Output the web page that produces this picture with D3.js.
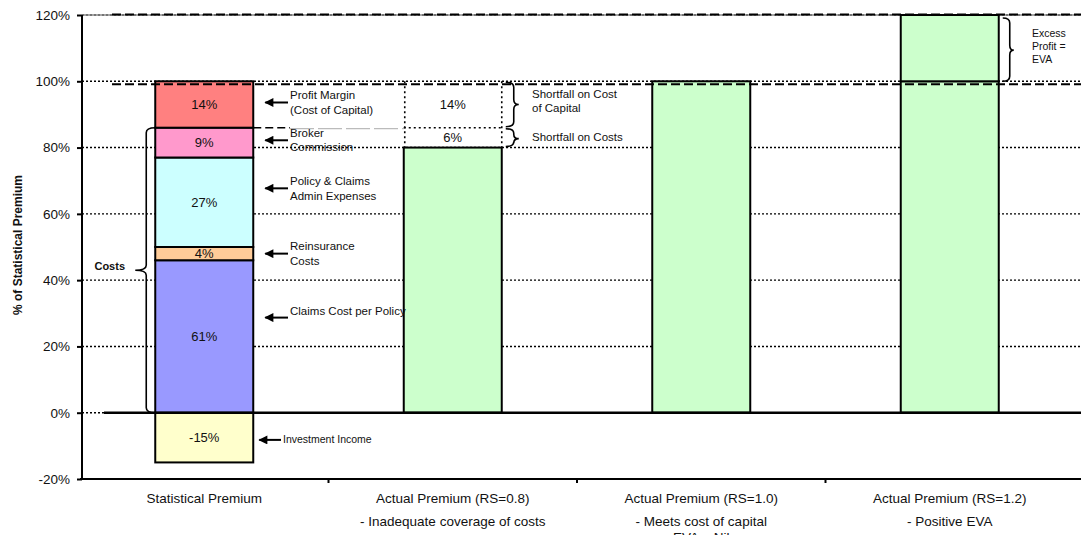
<!DOCTYPE html>
<html>
<head>
<meta charset="utf-8">
<script src="https://cdn.jsdelivr.net/npm/d3@7"></script>
<style>
body { margin: 0; background: #fff; }
svg { font-family: "Liberation Sans", Arial, sans-serif; }
</style>
</head>
<body>
<div id="chart-area"></div>
<script>
// data
const categories = ["Statistical Premium", "Actual Premium (RS=0.8)", "Actual Premium (RS=1.0)", "Actual Premium (RS=1.2)"]
const subLabels = [[], ["- Inadequate coverage of costs"], ["- Meets cost of capital", "EVA = Nil"], ["- Positive EVA"]]
const segNames = ["Investment Income", "Claims Cost per Policy", "Reinsurance Costs", "Policy & Claims Admin Expenses", "Broker Commission", "Profit Margin (Cost of Capital)"]
const segValues = [-15, 61, 4, 27, 9, 14]
const segColors = ["#ffffcc", "#9999ff", "#ffcc99", "#ccffff", "#ff99cc", "#ff8080"]
const segNotes = [["Investment Income"], ["Claims Cost per Policy"], ["Reinsurance", "Costs"], ["Policy & Claims", "Admin Expenses"], ["Broker", "Commission"], ["Profit Margin", "(Cost of Capital)"]]
const noteAt = [-8.2, 28.7, 48, 67.7, 82.2, 93.6]
const actualValues = [80, 100, 120]
const shortfallValues = [6, 14]
const shortfallNotes = [["Shortfall on Costs"], ["Shortfall on Cost", "of Capital"]]
const yTicks = [-20, 0, 20, 40, 60, 80, 100, 120]

const W = 1081, H = 535
const LEFT = 82, TOP = 15, BOTTOM = 479
const INK = "#111"

const svg = d3.select("#chart-area").append("svg")
	.attr("width", W)
	.attr("height", H)

const y = d3.scaleLinear()
	.domain([-20, 120])
	.range([BOTTOM, TOP])

const x = d3.scaleBand()
	.domain(categories)
	.range([80, 1074])

const BAR = 98
const barX = c => x(c) + (x.bandwidth() - BAR) / 2

// grid
svg.append("g").selectAll("line")
	.data(yTicks.filter(d => d > -20))
	.enter().append("line")
		.attr("x1", LEFT).attr("x2", W)
		.attr("y1", d => y(d)).attr("y2", d => y(d))
		.attr("stroke", "#000")
		.attr("stroke-width", 1.4)
		.attr("stroke-dasharray", "2,2")

// top border (grey)
svg.append("line")
	.attr("x1", LEFT).attr("x2", W)
	.attr("y1", y(120)).attr("y2", y(120))
	.attr("stroke", "#888").attr("stroke-width", 1.5)

// y axis
const yAxis = svg.append("g")
	.attr("transform", `translate(${LEFT},0)`)
	.call(d3.axisLeft(y).tickValues(yTicks).tickFormat(d => d + "%").tickSize(5).tickPadding(7))
yAxis.select(".domain").remove()
yAxis.selectAll("line").attr("stroke-width", 2)
yAxis.selectAll("text").attr("font-size", "13.5px").attr("fill", INK).attr("font-family", "Liberation Sans, Arial, sans-serif")
svg.append("line")
	.attr("x1", LEFT).attr("x2", LEFT)
	.attr("y1", TOP).attr("y2", BOTTOM + 1)
	.attr("stroke", "#000").attr("stroke-width", 2)

// x axis
svg.append("line")
	.attr("x1", LEFT - 2).attr("x2", W)
	.attr("y1", BOTTOM).attr("y2", BOTTOM)
	.attr("stroke", "#000").attr("stroke-width", 2)
svg.append("g").selectAll("line")
	.data(categories.slice(1))
	.enter().append("line")
		.attr("x1", d => x(d)).attr("x2", d => x(d))
		.attr("y1", BOTTOM).attr("y2", BOTTOM + 4)
		.attr("stroke", "#000").attr("stroke-width", 2)

const xLabels = svg.append("g").selectAll("text")
	.data(categories)
	.enter().append("text")
		.attr("text-anchor", "middle")
		.attr("font-size", "13.5px")
		.attr("fill", INK)
xLabels.each(function(d, i) {
	const t = d3.select(this)
	const cx = x(d) + x.bandwidth() / 2
	const lines = [d].concat(subLabels[i])
	lines.forEach((l, j) => {
		t.append("tspan")
			.attr("x", cx)
			.attr("y", j === 0 ? 498 : 521.5 + (j - 1) * 16)
			.attr("dy", "0.35em")
			.text(l)
	})
})

// y title
svg.append("text")
	.attr("transform", "rotate(-90)")
	.attr("x", -245)
	.attr("y", 18)
	.attr("text-anchor", "middle")
	.attr("dy", "0.35em")
	.attr("font-size", "12px")
	.attr("font-weight", "bold")
	.attr("fill", INK)
	.text("% of Statistical Premium")

// stacked bar (statistical premium)
let cum = segValues[0]
const segs = segValues.map((v, i) => {
	if (i === 0) return { name: segNames[i], value: v, y0: 0, y1: v, color: segColors[i] }
	const s = { name: segNames[i], value: v, y0: Math.max(0, cum), y1: cum + v, color: segColors[i] }
	cum += v
	return s
})

const x0 = barX(categories[0])
svg.append("g").selectAll("rect")
	.data(segs)
	.enter().append("rect")
		.attr("x", x0)
		.attr("width", BAR)
		.attr("y", d => y(Math.max(d.y0, d.y1)))
		.attr("height", d => Math.abs(y(d.y0) - y(d.y1)))
		.attr("fill", d => d.color)
		.attr("stroke", "#000")
		.attr("stroke-width", 2)

svg.append("g").selectAll("text")
	.data(segs)
	.enter().append("text")
		.attr("x", x0 + BAR / 2)
		.attr("y", d => y((d.y0 + d.y1) / 2))
		.attr("dy", "0.35em")
		.attr("text-anchor", "middle")
		.attr("font-size", "13px")
		.attr("fill", INK)
		.text(d => d.value + "%")

// actual premium bars
const greens = actualValues.map((v, i) => ({ cat: categories[i + 1], value: v }))
greens.forEach(d => {
	const parts = d.value > 100 ? [[0, 100], [100, d.value]] : [[0, d.value]]
	parts.forEach(p => {
		svg.append("rect")
			.attr("x", barX(d.cat))
			.attr("width", BAR)
			.attr("y", y(p[1]))
			.attr("height", y(p[0]) - y(p[1]))
			.attr("fill", "#ccffcc")
			.attr("stroke", "#000")
			.attr("stroke-width", 2)
	})
})

// zero line
svg.append("line")
	.attr("x1", 104).attr("x2", W)
	.attr("y1", y(0)).attr("y2", y(0))
	.attr("stroke", "#000").attr("stroke-width", 2.5)

// dashed reference lines
svg.append("line")
	.attr("x1", 112).attr("x2", W)
	.attr("y1", y(120) - 0.5).attr("y2", y(120) - 0.5)
	.attr("stroke", "#000").attr("stroke-width", 2)
	.attr("stroke-dasharray", "9,4")
svg.append("line")
	.attr("x1", 112).attr("x2", W)
	.attr("y1", y(100) + 3).attr("y2", y(100) + 3)
	.attr("stroke", "#000").attr("stroke-width", 2)
	.attr("stroke-dasharray", "9,4")

// shortfall box on RS=0.8 bar
const b2 = barX(categories[1])
const costTop = 100 - shortfallValues[1]
svg.append("line")
	.attr("x1", x0 + BAR).attr("x2", 290)
	.attr("y1", y(costTop)).attr("y2", y(costTop))
	.attr("stroke", "#000").attr("stroke-width", 1.5).attr("stroke-dasharray", "8,4")
svg.append("line")
	.attr("x1", 290).attr("x2", b2)
	.attr("y1", y(costTop) + 1).attr("y2", y(costTop) + 1)
	.attr("stroke", "#bbb").attr("stroke-width", 1.2).attr("stroke-dasharray", "24,4")
const dotted = (xa, ya, xb, yb) => svg.append("line")
	.attr("x1", xa).attr("y1", ya).attr("x2", xb).attr("y2", yb)
	.attr("stroke", "#000").attr("stroke-width", 1.6).attr("stroke-dasharray", "2,3")
dotted(b2 + 1, y(100), b2 + 1, y(actualValues[0]))
dotted(b2 + BAR, y(100), b2 + BAR, y(actualValues[0]))
dotted(b2, y(costTop), b2 + BAR, y(costTop))

let sCum = actualValues[0]
const shortBoxes = shortfallValues.map((v, i) => {
	const s = { value: v, y0: sCum, y1: sCum + v, note: shortfallNotes[i] }
	sCum += v
	return s
})
svg.append("g").selectAll("text")
	.data(shortBoxes)
	.enter().append("text")
		.attr("x", b2 + BAR / 2)
		.attr("y", d => y((d.y0 + d.y1) / 2))
		.attr("dy", "0.35em")
		.attr("text-anchor", "middle")
		.attr("font-size", "13px")
		.attr("fill", INK)
		.text(d => d.value + "%")

// brace helper
function brace(xs, xv, xp, yTop, yMid, yBot) {
	const r = Math.min(5, (yBot - yTop) / 4)
	return `M${xs},${yTop} Q${xv},${yTop} ${xv},${yTop + r} L${xv},${yMid - r} Q${xv},${yMid} ${xp},${yMid}` +
		` Q${xv},${yMid} ${xv},${yMid + r} L${xv},${yBot - r} Q${xv},${yBot} ${xs},${yBot}`
}
const braceStyle = p => p.attr("fill", "none").attr("stroke", "#000").attr("stroke-width", 1.6)

const multiText = (xx, yc, lines, size, weight) => {
	const t = svg.append("text").attr("font-size", size).attr("fill", INK)
	if (weight) t.attr("font-weight", weight)
	const lh = parseFloat(size) * 1.25
	lines.forEach((l, j) => {
		t.append("tspan")
			.attr("x", xx)
			.attr("y", yc + (j - (lines.length - 1) / 2) * lh)
			.attr("dy", "0.35em")
			.text(l)
	})
	return t
}

shortBoxes.forEach(d => {
	const yt = y(d.y1) + 1, yb = y(d.y0) - 1
	const ym = d.value > 10 ? y(d.y1 - d.value / 2) : (yt + yb) / 2 + 1
	svg.append("path").attr("d", brace(b2 + BAR + 4, b2 + BAR + 12, b2 + BAR + 17, yt, ym, yb)).call(braceStyle)
	multiText(532, d.value > 10 ? y(d.y1) + 20 : y(d.y1) + 9, d.note, "11.5px")
})

// excess profit brace on RS=1.2
const b4 = barX(categories[3])
svg.append("path").attr("d", brace(b4 + BAR + 4, b4 + BAR + 11, b4 + BAR + 15, y(120) + 3, y(110) + 2, y(100))).call(braceStyle)
multiText(1032, y(110) - 2, ["Excess", "Profit =", "EVA"], "10.5px")

// costs brace
svg.append("path").attr("d", brace(x0, x0 - 9, x0 - 20, y(86), y(43), y(0))).call(braceStyle)
multiText(125, y(44.3), ["Costs"], "11px", "bold").attr("text-anchor", "end")

// arrows + notes
svg.append("defs").append("marker")
	.attr("id", "ah")
	.attr("viewBox", "0 0 10 10")
	.attr("refX", 9).attr("refY", 5)
	.attr("markerWidth", 5).attr("markerHeight", 4.5)
	.attr("orient", "auto")
	.append("path").attr("d", "M0,0 L10,5 L0,10 Z").attr("fill", "#000")

segNotes.forEach((lines, i) => {
	const ya = y(noteAt[i])
	const inv = i === 0
	const xa = inv ? x0 + BAR + 4 : x0 + BAR + 10
	const xt = inv ? 281 : 288
	svg.append("line")
		.attr("x1", xt).attr("x2", xa + 2)
		.attr("y1", ya).attr("y2", ya)
		.attr("stroke", "#000").attr("stroke-width", 2)
		.attr("marker-end", "url(#ah)")
	multiText(xt + 2, lines.length > 1 ? ya : (inv ? ya - 1 : ya - 7), lines, inv ? "10.5px" : "11.5px")
})
</script>
</body>
</html>
